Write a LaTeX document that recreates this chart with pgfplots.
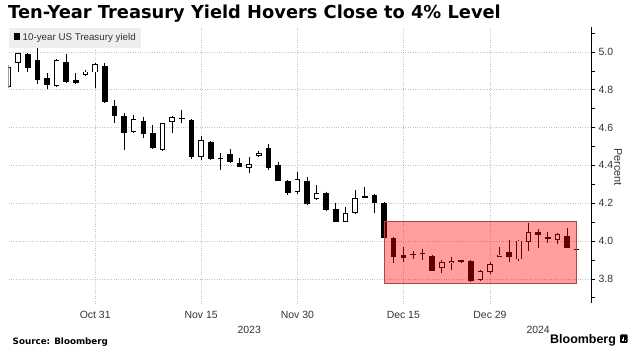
\documentclass[border=0pt]{standalone}
\usepackage{pgfplots}
\pgfplotsset{compat=1.18}
\usepackage{pgfplotstable}
\usepackage{fontspec}
\setmainfont{Liberation Sans}
\newfontfamily\dejavu{DejaVu Sans}
\definecolor{labelgray}{HTML}{333333}
\definecolor{gridgray}{HTML}{C4C4C4}
\definecolor{leggray}{HTML}{EEEEEE}
\definecolor{boxred}{HTML}{FF0000}
\definecolor{boxedge}{HTML}{B04444}

% i: trading day index (0 = Oct 18 2023), o h l c: open high low close (percent)
\pgfplotstableread{
i o h l c
0 4.816 4.930 4.810 4.922
1 4.940 4.996 4.896 4.993
2 4.989 4.996 4.892 4.914
3 4.958 5.025 4.829 4.852
4 4.861 4.887 4.803 4.825
5 4.820 4.962 4.815 4.958
6 4.945 4.988 4.834 4.843
7 4.852 4.891 4.830 4.834
8 4.878 4.902 4.875 4.896
9 4.892 4.940 4.808 4.935
10 4.926 4.940 4.728 4.734
11 4.714 4.746 4.626 4.661
12 4.661 4.676 4.481 4.573
13 4.578 4.667 4.570 4.644
14 4.637 4.658 4.543 4.566
15 4.573 4.614 4.485 4.490
16 4.481 4.626 4.478 4.623
17 4.631 4.660 4.570 4.654
18 4.649 4.693 4.623 4.644
19 4.640 4.645 4.432 4.446
20 4.446 4.556 4.429 4.534
21 4.522 4.530 4.430 4.434
22 4.440 4.467 4.376 4.437
23 4.460 4.485 4.411 4.420
24 4.414 4.440 4.390 4.393
25 4.388 4.443 4.361 4.406
26 4.451 4.475 4.445 4.467
27 4.490 4.512 4.376 4.388
28 4.402 4.420 4.315 4.319
29 4.317 4.322 4.245 4.252
30 4.261 4.367 4.249 4.326
31 4.319 4.340 4.190 4.194
32 4.221 4.296 4.218 4.252
33 4.252 4.260 4.160 4.164
34 4.168 4.199 4.100 4.102
35 4.102 4.178 4.098 4.147
36 4.147 4.270 4.145 4.226
37 4.236 4.284 4.226 4.232
38 4.243 4.249 4.147 4.199
39 4.199 4.205 4.010 4.014
40 4.014 4.020 3.885 3.917
41 3.926 3.970 3.891 3.912
42 3.932 3.948 3.905 3.929
43 3.936 3.958 3.900 3.933
44 3.921 3.925 3.843 3.843
45 3.859 3.900 3.829 3.887
46 3.882 3.917 3.847 3.894
47 3.897 3.902 3.882 3.895
48 3.894 3.899 3.781 3.790
49 3.794 3.845 3.790 3.843
50 3.838 3.891 3.825 3.877
51 3.918 3.970 3.915 3.928
52 3.944 4.005 3.891 3.917
53 3.903 4.004 3.894 4.002
54 3.996 4.097 3.949 4.046
55 4.049 4.062 3.965 4.032
56 4.020 4.046 3.991 4.011
57 4.005 4.044 3.984 4.035
58 4.026 4.067 3.963 3.965
59 3.958 3.960 3.956 3.958
}\candles

\begin{document}
\begin{tikzpicture}
\useasboundingbox (0,0) rectangle (635bp,351bp);
\begin{axis}[
  at={(8.5bp,47.6bp)}, anchor=south west,
  scale only axis, width=582.5bp, height=276bp,
  xmin=0, xmax=60.49, ymin=3.67, ymax=5.13,
  axis y line*=right, axis x line*=bottom,
  x axis line style={draw=none},
  y axis line style={line width=0.8bp, black},
  xtick={9,20,30,41,50},
  xticklabels={Oct 31,Nov 15,Nov 30,Dec 15,Dec 29},
  extra x ticks={25,55}, extra x tick labels={2023,2024},
  extra x tick style={grid=none, tick label style={yshift=-15bp}},
  xtick style={draw=none},
  ytick={3.8,4.0,4.2,4.4,4.6,4.8,5.0},
  minor ytick={3.7,3.9,4.1,4.3,4.5,4.7,4.9,5.1},
  ytick style={black, line width=0.6bp},
  tick align=outside, major tick length=4bp, minor tick length=4bp,
  grid=major, grid style={gridgray, dotted, line width=0.6bp},
  tick label style={font=\fontsize{10.5}{12}\selectfont, text=labelgray},
  yticklabel style={/pgf/number format/.cd, fixed, fixed zerofill, precision=1, assume math mode=true},
  clip=true,
]
% wicks
\addplot[draw=none, mark=none, error bars/.cd, y dir=minus, y explicit, error mark=none,
  error bar style={draw=black, line width=0.9bp}]
  table[x=i, y=h, y error expr={\thisrow{h}-\thisrow{l}}] {\candles};
% bodies (black)
\addplot[draw=none, mark=none, error bars/.cd, y dir=minus, y explicit, error mark=none,
  error bar style={draw=black, line width=5.6bp}]
  table[x=i, y expr={max(\thisrow{o},\thisrow{c})}, y error expr={max(abs(\thisrow{o}-\thisrow{c}),0.006)}] {\candles};
% hollow interior for rising days
\addplot[draw=none, mark=none, error bars/.cd, y dir=minus, y explicit, error mark=none,
  error bar style={draw=white, line width=3.8bp}]
  table[x=i, y expr={\thisrow{c}-0.0045}, y error expr={max(\thisrow{c}-\thisrow{o}-0.009,0)}] {\candles};
% highlighted range
\addplot[draw=boxedge, line width=0.9bp, fill=boxred, fill opacity=0.38]
  coordinates {(39,3.778) (59,3.778) (59,4.105) (39,4.105) (39,3.778)};
\node[anchor=north west, fill=leggray, inner xsep=5bp, inner ysep=0pt, minimum height=20bp,
  font=\fontsize{9.8}{11}\selectfont, text=labelgray] at (rel axis cs:0,1)
  {\textcolor{black}{\rule[0.2bp]{6.5bp}{6.5bp}}\hspace{2.5bp}10-year US Treasury yield};
\end{axis}
\node[anchor=base west, font=\dejavu\bfseries\fontsize{17.9}{20}\selectfont, inner sep=0pt]
  at (8bp,332.5bp) {Ten-Year Treasury Yield Hovers Close to 4\% Level};
\node[rotate=-90, font=\fontsize{11}{13}\selectfont, text=labelgray] at (618bp,184bp) {Percent};
\node[anchor=base west, font=\dejavu\bfseries\fontsize{8.8}{10}\selectfont, inner sep=0pt]
  at (12.5bp,7bp) {Source: Bloomberg};
\node[anchor=base west, font=\bfseries\fontsize{12.5}{14}\selectfont, inner sep=0pt]
  at (550bp,8bp) {Bloomberg};
\fill[black, rounded corners=1bp] (620bp,8bp) rectangle (627.5bp,16.5bp);
\draw[white, line width=0.8bp] (622bp,9.5bp) -- (622bp,12bp) (623.8bp,9.5bp) -- (623.8bp,14bp) (625.6bp,9.5bp) -- (625.6bp,11bp);
\end{tikzpicture}
\end{document}
